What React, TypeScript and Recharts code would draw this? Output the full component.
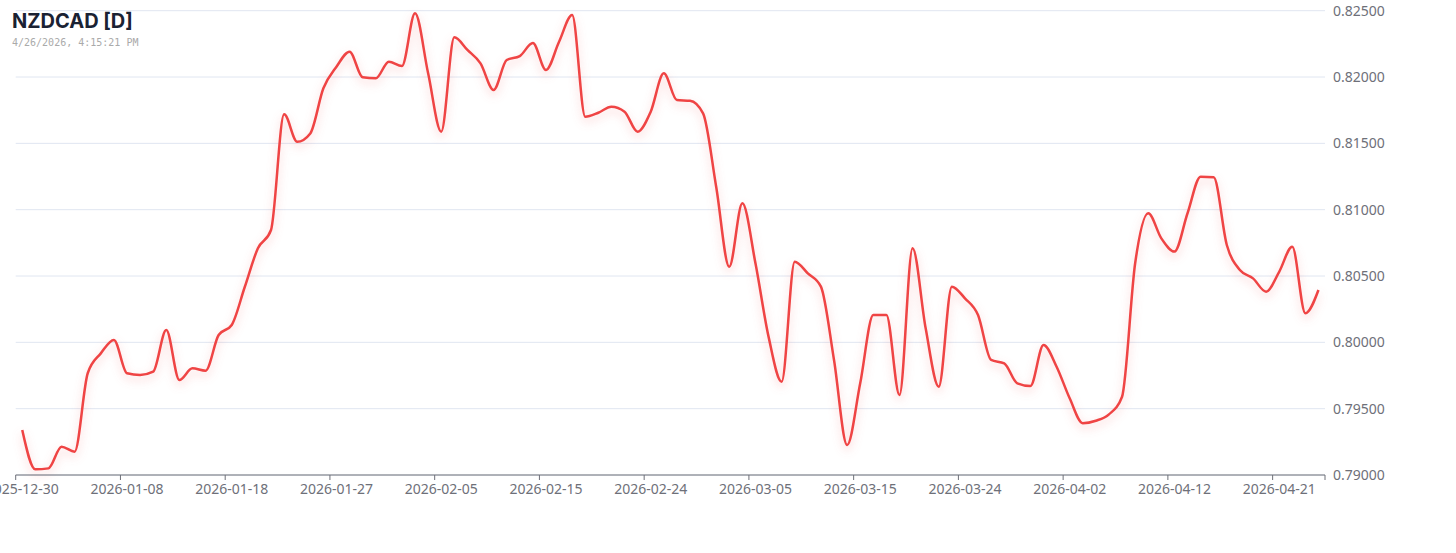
import { LineChart, Line, XAxis, YAxis, CartesianGrid } from 'recharts';

// NZDCAD daily closes (Saturdays are not in the feed)
const dates = [
  '2025-12-30', '2025-12-31',
  '2026-01-01', '2026-01-02', '2026-01-04', '2026-01-05', '2026-01-06', '2026-01-07', '2026-01-08', '2026-01-09',
  '2026-01-11', '2026-01-12', '2026-01-13', '2026-01-14', '2026-01-15', '2026-01-16', '2026-01-18', '2026-01-19',
  '2026-01-20', '2026-01-21', '2026-01-22', '2026-01-23', '2026-01-25', '2026-01-26', '2026-01-27', '2026-01-28',
  '2026-01-29', '2026-01-30',
  '2026-02-01', '2026-02-02', '2026-02-03', '2026-02-04', '2026-02-05', '2026-02-06', '2026-02-08', '2026-02-09',
  '2026-02-10', '2026-02-11', '2026-02-12', '2026-02-13', '2026-02-15', '2026-02-16', '2026-02-17', '2026-02-18',
  '2026-02-19', '2026-02-20', '2026-02-22', '2026-02-23', '2026-02-24', '2026-02-25', '2026-02-26', '2026-02-27',
  '2026-03-01', '2026-03-02', '2026-03-03', '2026-03-04', '2026-03-05', '2026-03-06', '2026-03-08', '2026-03-09',
  '2026-03-10', '2026-03-11', '2026-03-12', '2026-03-13', '2026-03-15', '2026-03-16', '2026-03-17', '2026-03-18',
  '2026-03-19', '2026-03-20', '2026-03-22', '2026-03-23', '2026-03-24', '2026-03-25', '2026-03-26', '2026-03-27',
  '2026-03-29', '2026-03-30', '2026-03-31',
  '2026-04-01', '2026-04-02', '2026-04-03', '2026-04-05', '2026-04-06', '2026-04-07', '2026-04-08', '2026-04-09',
  '2026-04-10', '2026-04-12', '2026-04-13', '2026-04-14', '2026-04-15', '2026-04-16', '2026-04-17', '2026-04-19',
  '2026-04-20', '2026-04-21', '2026-04-22', '2026-04-23', '2026-04-24',
];

const closes = [
  0.79339, 0.79043, 0.7905, 0.79213, 0.79176, 0.79767, 0.79917, 0.80018, 0.79767, 0.79754,
  0.79779, 0.80093, 0.79716, 0.79804, 0.79786, 0.80055, 0.80131, 0.80419, 0.80709, 0.80847,
  0.81719, 0.81512, 0.81575, 0.81915, 0.82078, 0.82191, 0.81998, 0.8199, 0.82116, 0.82083,
  0.8248, 0.82028, 0.81588, 0.82299, 0.82204, 0.82103, 0.81902, 0.82128, 0.82158, 0.82256,
  0.82053, 0.82266, 0.82467, 0.81701, 0.81731, 0.81776, 0.81739, 0.81588, 0.81739, 0.82028,
  0.81826, 0.81821, 0.81726, 0.81173, 0.8057, 0.81048, 0.80596, 0.80043, 0.79703, 0.80608,
  0.8052, 0.8042, 0.79867, 0.79226, 0.79691, 0.80206, 0.80206, 0.79603, 0.80709, 0.80106,
  0.79666, 0.8042, 0.80332, 0.80206, 0.79867, 0.79842, 0.79691, 0.79671, 0.7998, 0.79816,
  0.79578, 0.7939, 0.79409, 0.79457, 0.7959, 0.80596, 0.80973, 0.80784, 0.80684, 0.80973,
  0.81249, 0.81244, 0.80734, 0.80545, 0.80482, 0.80382, 0.80532, 0.80721, 0.80219, 0.80395,
];

const yTicks = [0.79, 0.795, 0.8, 0.805, 0.81, 0.815, 0.82, 0.825];

const data = dates.map((date, i) => ({ date, close: closes[i] }));

const W = 1456;
const H = 553;
const MARGIN = { top: 10.7, right: 8, bottom: 48, left: 15.7 };
const Y_AXIS_W = 123;
const PLOT_W = W - MARGIN.left - MARGIN.right - Y_AXIS_W;
const BAND = PLOT_W / dates.length;
const LABEL_EVERY = 8;
const AXIS_COLOR = '#6E7079';

const DateTick = (props: any) => {
  const { x, y, index, payload } = props;
  const last = index === dates.length - 1;
  if (index % LABEL_EVERY !== 0 && !last) return null;
  return (
    <g>
      {index % LABEL_EVERY === 0 && (
        <>
          <line x1={x - BAND / 2} x2={x - BAND / 2} y1={y} y2={y + 5} stroke={AXIS_COLOR} />
          <text x={x} y={y + 19} textAnchor="middle" fill={AXIS_COLOR} fontSize={14}>
            {payload.value}
          </text>
        </>
      )}
      {last && <line x1={x + BAND / 2} x2={x + BAND / 2} y1={y} y2={y + 5} stroke={AXIS_COLOR} />}
    </g>
  );
};

export default function App() {
  return (
    <div style={{ position: 'relative', width: W, height: H, background: '#fff' }}>
      <style>{`
        body { margin: 0; }
        .recharts-line-curve { filter: drop-shadow(0px 4px 5px rgba(239, 68, 68, 0.3)); }
      `}</style>
      <LineChart
        width={W}
        height={H}
        data={data}
        margin={MARGIN}
        style={{ fontFamily: '"Noto Sans", sans-serif' }}
      >
        <CartesianGrid vertical={false} stroke="#E0E6F1" />
        <XAxis
          dataKey="date"
          interval={0}
          tickLine={false}
          tickSize={0}
          tickMargin={0}
          height={30}
          padding={{ left: BAND / 2, right: BAND / 2 }}
          axisLine={{ stroke: AXIS_COLOR }}
          tick={<DateTick />}
        />
        <YAxis
          orientation="right"
          width={Y_AXIS_W}
          domain={[0.79, 0.825]}
          ticks={yTicks}
          tickFormatter={(v: number) => v.toFixed(5)}
          axisLine={false}
          tickLine={false}
          tickSize={0}
          tickMargin={8}
          tick={{ fill: AXIS_COLOR, fontSize: 14 }}
        />
        <Line
          type="monotone"
          dataKey="close"
          stroke="#ef4444"
          strokeWidth={2.5}
          dot={false}
          activeDot={false}
          isAnimationActive={false}
        />
      </LineChart>
      <div
        style={{
          position: 'absolute',
          left: 12,
          top: 11,
          fontFamily: 'Inter, sans-serif',
          fontWeight: 700,
          fontSize: 20,
          lineHeight: '20px',
          color: '#1a2233',
        }}
      >
        NZDCAD [D]
      </div>
      <div
        style={{
          position: 'absolute',
          left: 12,
          top: 37.5,
          fontFamily: '"DejaVu Sans Mono", monospace',
          fontSize: 10,
          lineHeight: '10px',
          color: '#aaaaaa',
        }}
      >
        4/26/2026, 4:15:21 PM
      </div>
    </div>
  );
}
